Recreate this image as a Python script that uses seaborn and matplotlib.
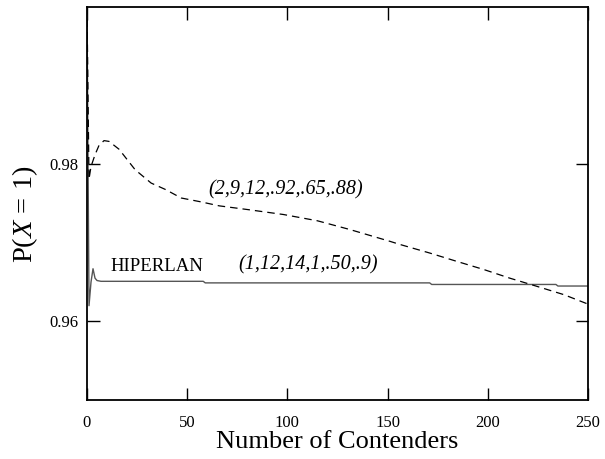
import matplotlib
matplotlib.use("Agg")
import matplotlib.pyplot as plt
import seaborn as sns
import pandas as pd

# data
dash_x = [0, 1, 2, 4, 6, 8.5, 11, 16, 24, 32, 39, 47, 57, 66, 81, 98, 115, 131,
          151, 156, 171, 185, 198, 211, 224, 238, 250]
dash_y = [1.0, 0.9781, 0.9797, 0.9812, 0.9824, 0.9830, 0.9829, 0.9819, 0.9793,
          0.9776, 0.9768, 0.9757, 0.9752, 0.9747, 0.9742, 0.9736, 0.9728, 0.9717,
          0.9702, 0.9698, 0.9687, 0.9676, 0.9666, 0.9655, 0.9645, 0.9634, 0.9622]
solid_x = [0, 1, 2, 3, 4, 5, 7, 58, 59, 171, 172, 234, 235, 250]
solid_y = [1.0, 0.9620, 0.9650, 0.9667, 0.9655, 0.9652, 0.9651, 0.9651, 0.9649,
           0.9649, 0.9647, 0.9647, 0.9645, 0.9645]
x_ticks = [0, 50, 100, 150, 200, 250]
y_ticks = [0.96, 0.98]
label_dash = "(2,9,12,.92,.65,.88)"
label_solid = "(1,12,14,1,.50,.9)"
label_hiper = "HIPERLAN"

sns.set_theme(style="ticks")
plt.rcParams["font.family"] = ["Liberation Serif", "DejaVu Serif"]
plt.rcParams["mathtext.fontset"] = "custom"
plt.rcParams["mathtext.rm"] = "Liberation Serif"
plt.rcParams["mathtext.it"] = "Liberation Serif:italic"
plt.rcParams["text.color"] = "black"
plt.rcParams["axes.labelcolor"] = "black"

fig = plt.figure(figsize=(6.05, 4.59), dpi=100)
ax = fig.add_axes([87/605, 1-400/459, (588-87)/605, (400-7)/459])

df_d = pd.DataFrame({"x": dash_x, "y": dash_y})
df_s = pd.DataFrame({"x": solid_x, "y": solid_y})
sns.lineplot(data=df_s, x="x", y="y", ax=ax, color="#555555", lw=1.0, sort=False)
sns.lineplot(data=df_d, x="x", y="y", ax=ax, color="black", lw=0.9, sort=False,
             dashes=False)
ax.lines[-1].set_dashes([6, 4])

ax.set_xlim(0, 250)
ax.set_ylim(0.95, 1.0)
ax.set_xticks(x_ticks)
ax.set_xticklabels([str(t) for t in x_ticks])
ax.set_yticks(y_ticks)
ax.set_yticklabels([f"{t:.2f}" for t in y_ticks])
ax.tick_params(direction="in", length=9, width=1, top=True, right=True,
               labelsize=12, colors="black")
ax.tick_params(axis="x", pad=11)
ax.tick_params(axis="y", pad=6)
for s in ax.spines.values():
    s.set_linewidth(1.3)
    s.set_color("black")

ax.set_xlabel("Number of Contenders", fontsize=19, labelpad=0)
ax.set_ylabel(r"P($\mathit{X}$ = $\mathit{1}$)", fontsize=20.5)
ax.yaxis.set_label_coords(-0.093, 0.473)

ax.text(11.5, 0.9664, label_hiper, fontsize=13.5, va="baseline", ha="left")
ax.text(75.3, 0.96665, label_solid, fontsize=14.5, style="italic", va="baseline", ha="left")
ax.text(60.4, 0.9762, label_dash, fontsize=14.5, style="italic", va="baseline", ha="left")

fig.savefig("out.png", dpi=100)
